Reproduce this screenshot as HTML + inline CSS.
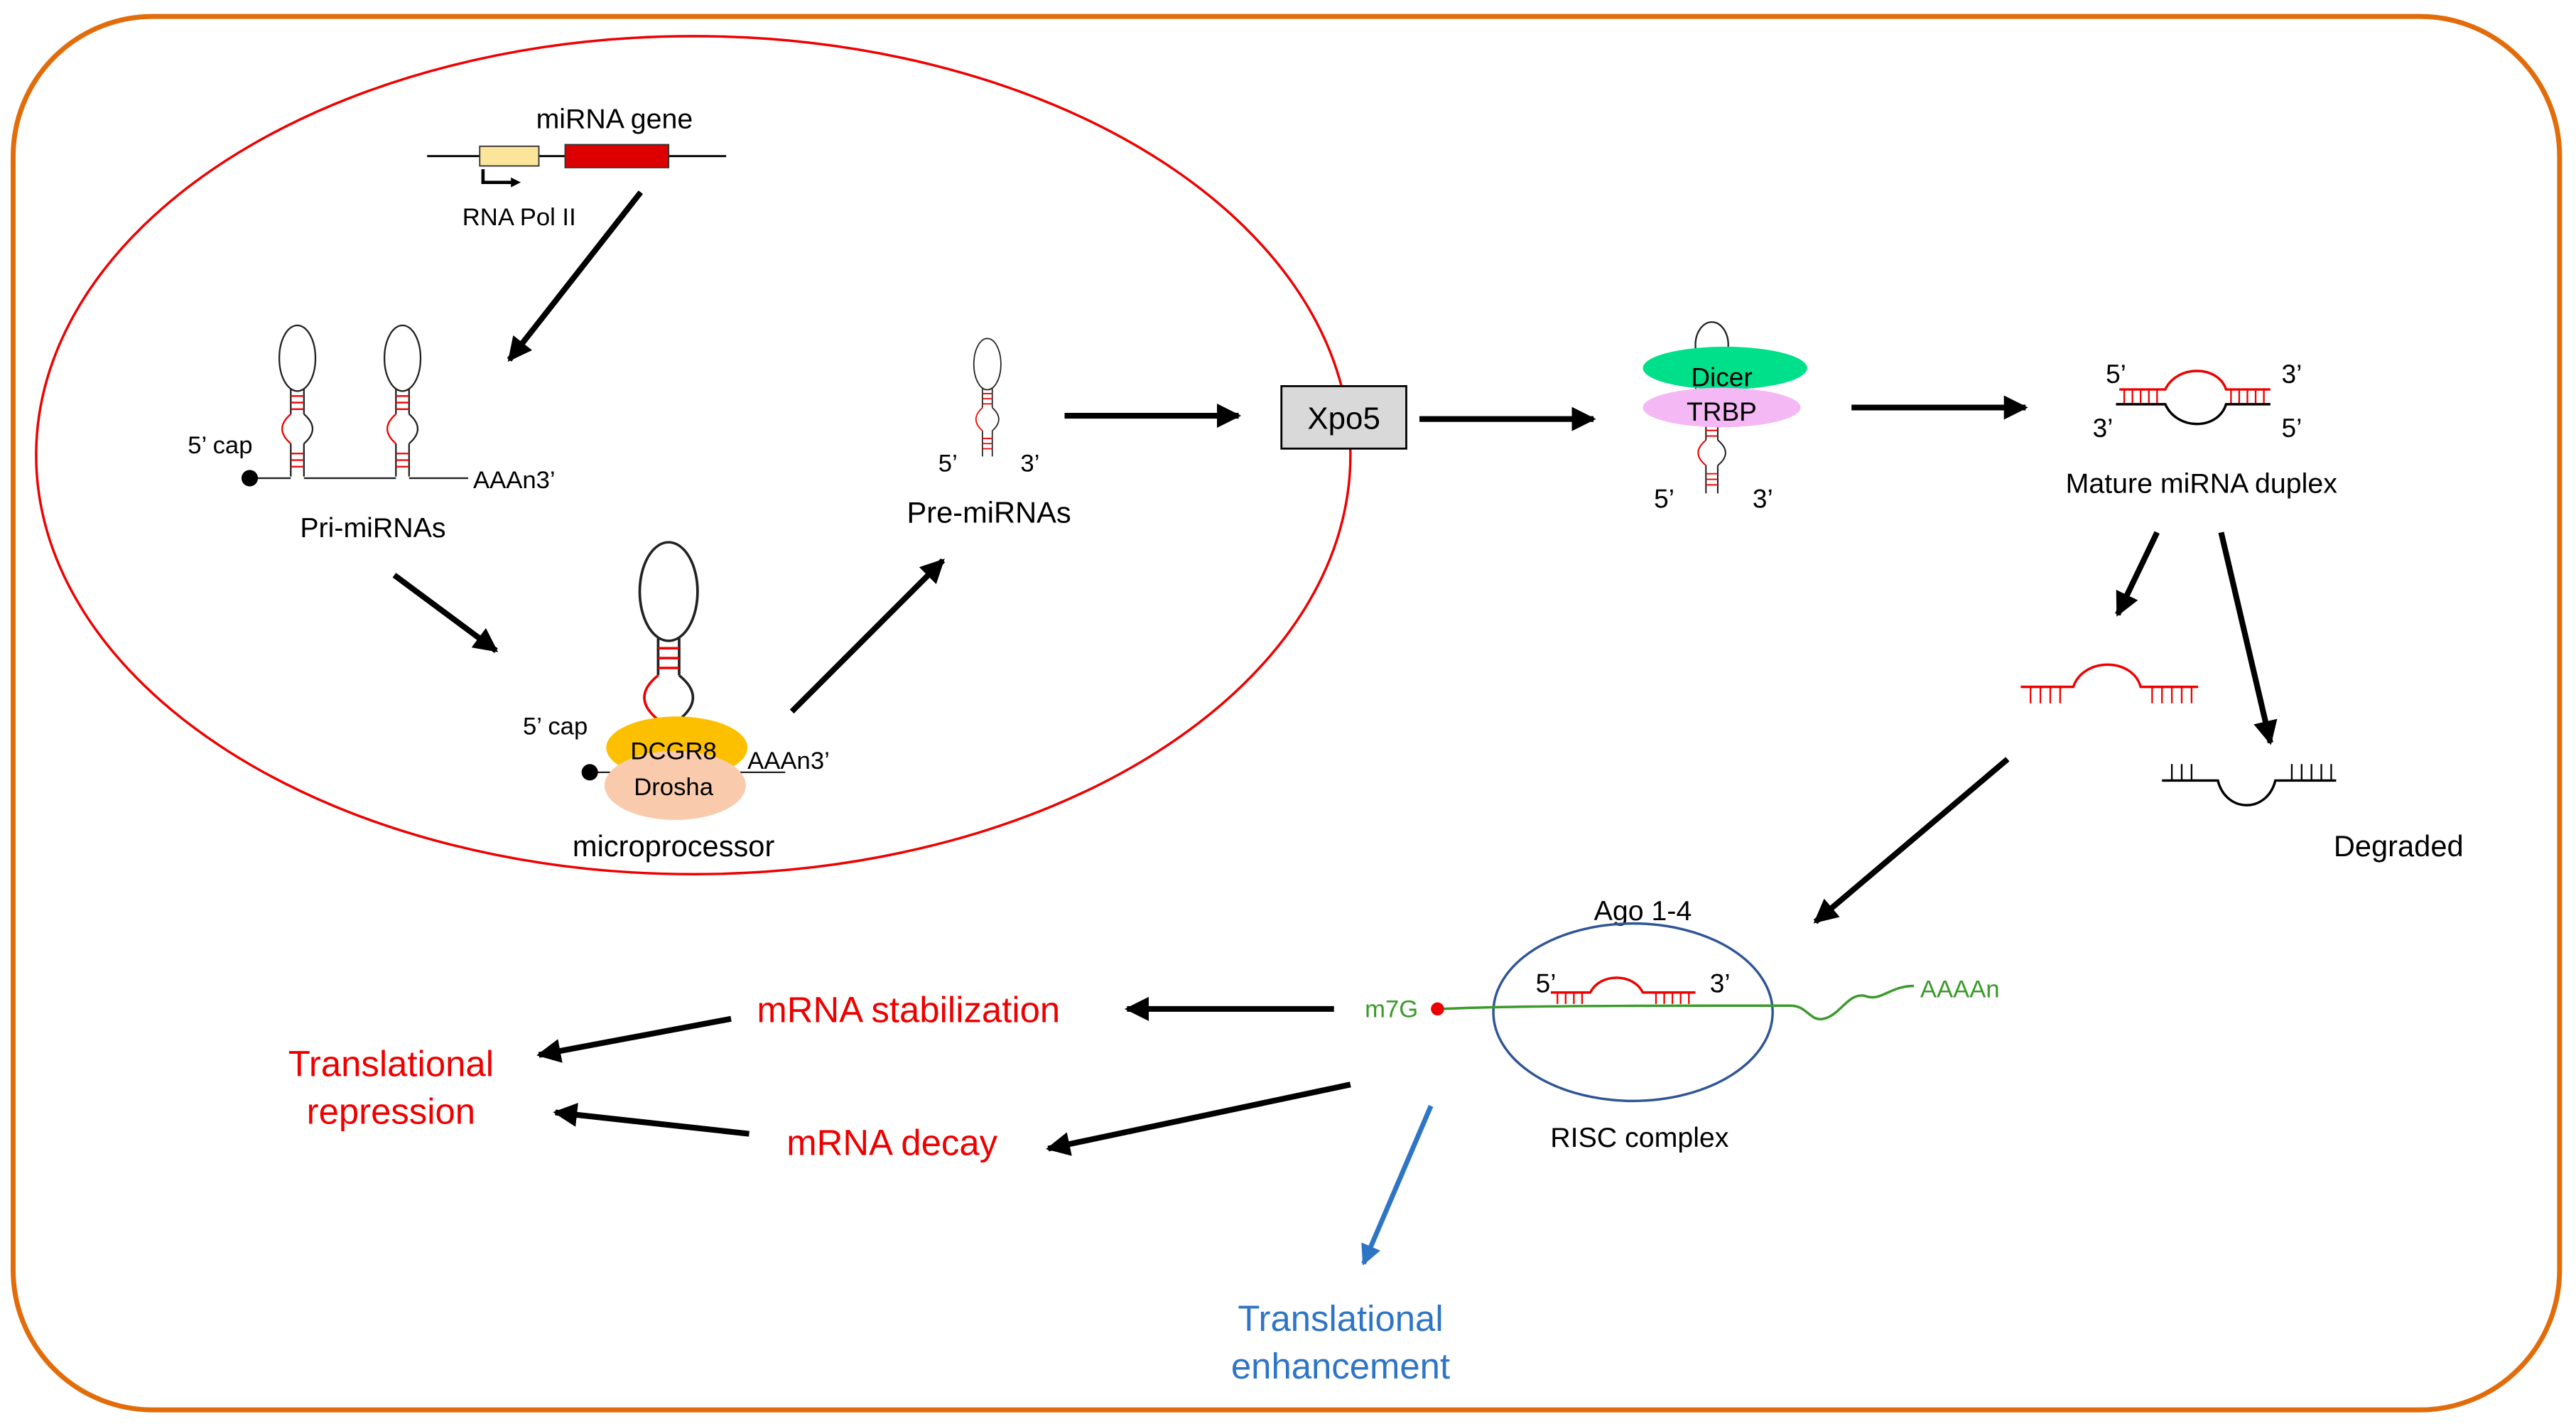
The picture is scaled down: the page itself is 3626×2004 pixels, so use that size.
<!DOCTYPE html>
<html><head><meta charset="utf-8"><style>
html,body{margin:0;padding:0;background:#fff}
svg{display:block}
text{font-family:"Liberation Sans",Arial,sans-serif}
</style></head><body>
<svg width="3626" height="2004" viewBox="0 0 1568 866.6" preserveAspectRatio="none" xmlns="http://www.w3.org/2000/svg">
<defs>
<marker id="ah" viewBox="0 0 10 10" refX="9" refY="5" markerWidth="4.2" markerHeight="4.2" orient="auto"><path d="M0,0L10,5L0,10z" fill="#000"/></marker>
<marker id="ahb" viewBox="0 0 10 10" refX="9" refY="5" markerWidth="4.2" markerHeight="4.2" orient="auto"><path d="M0,0L10,5L0,10z" fill="#2e75c6"/></marker>
<g id="hp">
<ellipse cx="0" cy="20" rx="11" ry="20" fill="none" stroke="#222" stroke-width="1"/>
<path d="M-4,39V54 M4,39V54" stroke="#222" stroke-width="1"/>
<path d="M-4,43H4 M-4,47H4 M-4,51H4" stroke="#e00" stroke-width="1"/>
<path d="M-4,54C-11,60 -11,66 -4,72" fill="none" stroke="#e00" stroke-width="1"/>
<path d="M4,54C11,60 11,66 4,72" fill="none" stroke="#222" stroke-width="1"/>
<path d="M-4,72V92 M4,72V92" stroke="#222" stroke-width="1"/>
<path d="M-4,78H4 M-4,82H4 M-4,86H4" stroke="#e00" stroke-width="1"/>
</g>
</defs>
<rect x="8" y="10" width="1550" height="848" rx="85" fill="none" stroke="#e36c0a" stroke-width="3"/>
<ellipse cx="422" cy="277" rx="400" ry="255" fill="none" stroke="#e00" stroke-width="1.5"/>
<line x1="260" y1="95" x2="442" y2="95" stroke="#000" stroke-width="1.2"/>
<rect x="292" y="89" width="36" height="12" fill="#fbe59a" stroke="#333" stroke-width="0.8"/>
<rect x="344" y="88" width="63" height="14" fill="#d00" stroke="#333" stroke-width="0.8"/>
<path d="M294,103V111H312" fill="none" stroke="#000" stroke-width="2"/><path d="M311,108L317,111L311,114z"/>
<text x="374" y="78" font-size="17" text-anchor="middle">miRNA gene</text>
<text x="316" y="137" font-size="15" text-anchor="middle">RNA  Pol II</text>
<g stroke="#000" stroke-width="3.5" marker-end="url(#ah)" fill="none">
<line x1="390" y1="117" x2="310" y2="219"/>
<line x1="240" y1="350" x2="302" y2="396"/>
<line x1="482" y1="433" x2="574" y2="341"/>
<line x1="648" y1="253" x2="754" y2="253"/>
<line x1="864" y1="255" x2="970" y2="255"/>
<line x1="1127" y1="248" x2="1233" y2="248"/>
<line x1="1313" y1="324" x2="1289" y2="374"/>
<line x1="1352" y1="324" x2="1382" y2="452"/>
<line x1="1222" y1="462" x2="1105" y2="561"/>
<line x1="812" y1="614" x2="686" y2="614"/>
<line x1="445" y1="620" x2="328" y2="642"/>
<line x1="822" y1="660" x2="638" y2="699"/>
<line x1="456" y1="690" x2="338" y2="677"/>
</g>
<line x1="871" y1="673" x2="830" y2="769" stroke="#2e75c6" stroke-width="3" marker-end="url(#ahb)"/>
<use href="#hp" x="181" y="198"/>
<use href="#hp" x="245" y="198"/>
<path d="M152,291H177 M185,291H241 M249,291H285" stroke="#222" stroke-width="1"/>
<circle cx="152" cy="291" r="5"/>
<text x="134" y="276" font-size="15" text-anchor="middle">5’ cap</text>
<text x="288" y="297" font-size="15">AAAn3’</text>
<text x="227" y="327" font-size="17" text-anchor="middle">Pri-miRNAs</text>
<g transform="translate(407,330) scale(1.6,1.5)"><use href="#hp"/></g>
<path d="M362,470H380 M445,470H478" stroke="#222" stroke-width="1"/>
<ellipse cx="412" cy="455" rx="43" ry="19" fill="#fcc000"/>
<ellipse cx="411" cy="478" rx="43" ry="21" fill="#f9cbac"/>
<circle cx="359" cy="470" r="5"/>
<text x="410" y="462" font-size="15" text-anchor="middle">DCGR8</text>
<text x="410" y="484" font-size="15" text-anchor="middle">Drosha</text>
<text x="338" y="447" font-size="15" text-anchor="middle">5’ cap</text>
<text x="455" y="468" font-size="15">AAAn3’</text>
<text x="410" y="521" font-size="18" text-anchor="middle">microprocessor</text>
<g transform="translate(601,206) scale(0.75,0.78)"><use href="#hp"/></g>
<text x="577" y="287" font-size="15" text-anchor="middle">5’</text>
<text x="627" y="287" font-size="15" text-anchor="middle">3’</text>
<text x="602" y="318" font-size="18" text-anchor="middle">Pre-miRNAs</text>
<rect x="780" y="235" width="76" height="38" fill="#d9d9d9" stroke="#000" stroke-width="1.2"/>
<text x="818" y="261" font-size="19" text-anchor="middle">Xpo5</text>
<ellipse cx="1042" cy="210" rx="10" ry="14" fill="none" stroke="#222"/>
<g transform="translate(1042,222) scale(0.9,0.85)"><use href="#hp"/></g>
<ellipse cx="1050" cy="224" rx="50" ry="13" fill="#00e08a"/>
<ellipse cx="1048" cy="248" rx="48" ry="12" fill="#f4b8f4"/>
<text x="1048" y="235" font-size="16" text-anchor="middle">Dicer</text>
<text x="1048" y="256" font-size="16" text-anchor="middle">TRBP</text>
<text x="1013" y="309" font-size="16" text-anchor="middle">5’</text>
<text x="1073" y="309" font-size="16" text-anchor="middle">3’</text>
<path d="M1290,237H1318C1325,222 1350,222 1355,237H1382" fill="none" stroke="#e00" stroke-width="1.5"/>
<path d="M1293,237V246M1298,237V246M1303,237V246M1308,237V246M1313,237V246M1358,237V246M1363,237V246M1368,237V246M1373,237V246M1378,237V246" stroke="#e00" stroke-width="1"/>
<path d="M1288,246H1318C1325,262 1350,262 1355,246H1382" fill="none" stroke="#000" stroke-width="1.5"/>
<text x="1288" y="233" font-size="16" text-anchor="middle">5’</text>
<text x="1395" y="233" font-size="16" text-anchor="middle">3’</text>
<text x="1280" y="266" font-size="16" text-anchor="middle">3’</text>
<text x="1395" y="266" font-size="16" text-anchor="middle">5’</text>
<text x="1340" y="300" font-size="17" text-anchor="middle">Mature miRNA duplex</text>
<path d="M1230,418H1262C1268,400 1298,400 1303,418H1338" fill="none" stroke="#e00" stroke-width="1.5"/>
<path d="M1236,418V428M1242,418V428M1248,418V428M1254,418V428M1310,418V428M1316,418V428M1322,418V428M1328,418V428M1334,418V428" stroke="#e00" stroke-width="1"/>
<path d="M1316,475H1350C1355,495 1380,495 1385,475H1422" fill="none" stroke="#000" stroke-width="1.5"/>
<path d="M1322,475V465M1328,475V465M1334,475V465M1395,475V465M1401,475V465M1407,475V465M1413,475V465M1419,475V465" stroke="#000" stroke-width="1"/>
<text x="1460" y="521" font-size="18" text-anchor="middle">Degraded</text>
<text x="1000" y="560" font-size="17" text-anchor="middle">Ago 1-4</text>
<ellipse cx="994" cy="616" rx="85" ry="54" fill="none" stroke="#2f5597" stroke-width="1.5"/>
<path d="M878,614C920,612 1000,612 1090,612C1100,612 1102,622 1110,620C1120,618 1125,604 1135,606C1145,610 1150,600 1165,600" fill="none" stroke="#3a9a2a" stroke-width="1.5"/>
<circle cx="875" cy="614" r="4" fill="#e00"/>
<text x="847" y="619" font-size="15" fill="#3a9a2a" text-anchor="middle">m7G</text>
<text x="1193" y="607" font-size="15" fill="#3a9a2a" text-anchor="middle">AAAAn</text>
<path d="M944,604H968C974,592 994,592 1000,604H1032" fill="none" stroke="#e00" stroke-width="1.5"/>
<path d="M948,604V611M953,604V611M958,604V611M963,604V611M1008,604V611M1013,604V611M1018,604V611M1023,604V611M1028,604V611" stroke="#e00" stroke-width="1"/>
<text x="941" y="604" font-size="16" text-anchor="middle">5’</text>
<text x="1047" y="604" font-size="16" text-anchor="middle">3’</text>
<text x="998" y="698" font-size="17" text-anchor="middle">RISC complex</text>
<text x="553" y="622" font-size="22" fill="#e00" text-anchor="middle">mRNA stabilization</text>
<text x="543" y="703" font-size="22" fill="#e00" text-anchor="middle">mRNA decay</text>
<text x="238" y="655" font-size="22" fill="#e00" text-anchor="middle">Translational</text>
<text x="238" y="684" font-size="22" fill="#e00" text-anchor="middle">repression</text>
<text x="816" y="810" font-size="22" fill="#2e75c6" text-anchor="middle">Translational</text>
<text x="816" y="839" font-size="22" fill="#2e75c6" text-anchor="middle">enhancement</text>
</svg>
</body></html>
